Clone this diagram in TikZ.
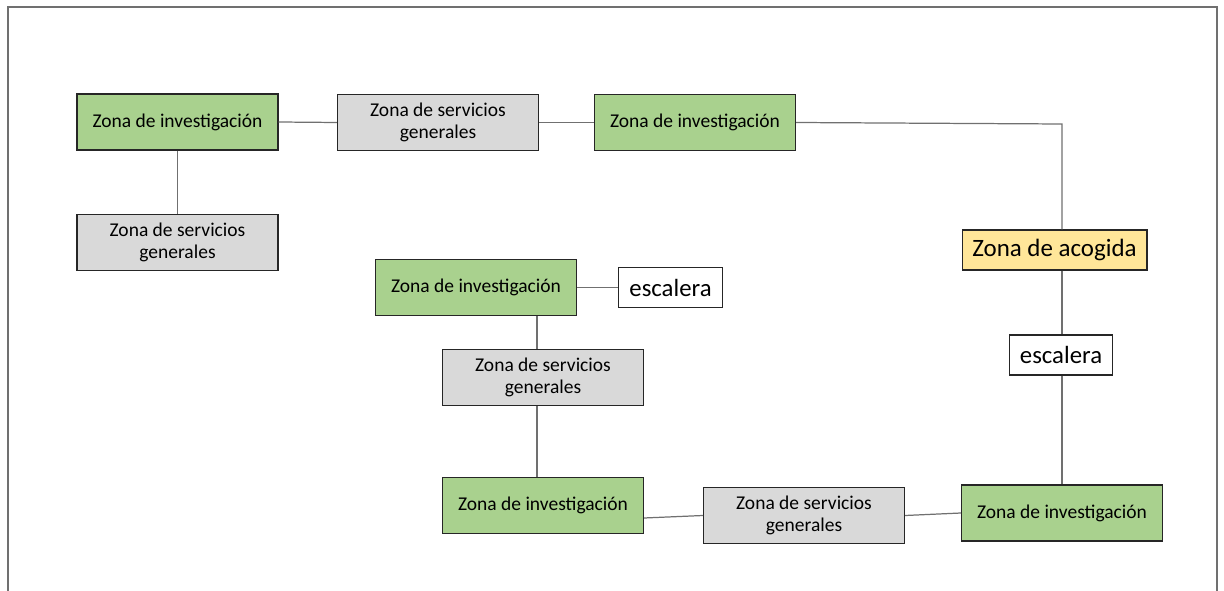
\documentclass[tikz,border=0pt]{standalone}
\usepackage{fontspec}
\setmainfont{Carlito}
\definecolor{zgreen}{HTML}{A9D18E}
\definecolor{zgray}{HTML}{D9D9D9}
\definecolor{zyellow}{HTML}{FFE699}
\definecolor{zline}{HTML}{707070}
\begin{document}
\begin{tikzpicture}[x=0.02cm,y=-0.02cm,
    zona/.style={draw=black!85,line width=0.6pt,minimum width=4.02cm,minimum height=1.12cm,align=center,font=\fontsize{11.1}{12.6}\selectfont,inner sep=1pt},
    invest/.style={zona,fill=zgreen},
    serv/.style={zona,fill=zgray},
    escal/.style={draw=black!85,line width=0.6pt,fill=white,minimum width=2.07cm,minimum height=0.8cm,font=\fontsize{14.1}{16}\selectfont,inner sep=1pt},
    link/.style={draw=zline,line width=0.7pt}]
    \useasboundingbox (0,0) rectangle (1224,591);
    % frame
    \draw[zline,line width=1.2pt] (8,591) -- (8,7) -- (1217,7) -- (1217,591);
    % upper row
    \node[invest] (inv1) at (177.5,122) {Zona de investigación};
    \node[serv] (ser1) at (438,122.5) {Zona de servicios\\generales};
    \node[invest] (inv2) at (695,122.5) {Zona de investigación};
    \node[serv] (ser2) at (177.5,242.5) {Zona de servicios\\generales};
    % right column
    \node[draw=black!85,line width=0.6pt,fill=zyellow,minimum width=3.7cm,minimum height=0.8cm,inner sep=1pt,font=\fontsize{14.2}{16}\selectfont] (acog) at (1054.5,250) {Zona de acogida};
    \node[escal] (esc2) at (1061,355) {escalera};
    \node[invest] (inv5) at (1062,513) {Zona de investigación};
    % middle block
    \node[invest] (inv3) at (476,287.5) {Zona de investigación};
    \node[escal] (esc1) at (670.5,287.5) {escalera};
    \node[serv] (ser3) at (543,377.5) {Zona de servicios\\generales};
    \node[invest] (inv4) at (543,505.5) {Zona de investigación};
    \node[serv] (ser4) at (804,515.5) {Zona de servicios\\generales};
    % guide points for the off-centre lines
    \coordinate (rcol) at (1062,124);
    \coordinate (mcol) at (537,0);
    \coordinate (low) at (0,518);
    % connectors
    \draw[link] (inv1.east) -- (ser1.west);
    \draw[link] (ser1.east) -- (inv2.west);
    \draw[link] (inv2.east) -- (rcol) -- (acog.north -| rcol);
    \draw[link] (inv1.south) -- (ser2.north);
    \draw[link] (acog.south -| rcol) -- (esc2.north -| rcol);
    \draw[link] (esc2.south -| rcol) -- (inv5.north);
    \draw[link] (inv3.east) -- (esc1.west);
    \draw[link] (inv3.south -| mcol) -- (ser3.north -| mcol);
    \draw[link] (ser3.south -| mcol) -- (inv4.north -| mcol);
    \draw[link] (inv4.east |- low) -- (ser4.west);
    \draw[link] (ser4.east) -- (inv5.west);
\end{tikzpicture}
\end{document}
